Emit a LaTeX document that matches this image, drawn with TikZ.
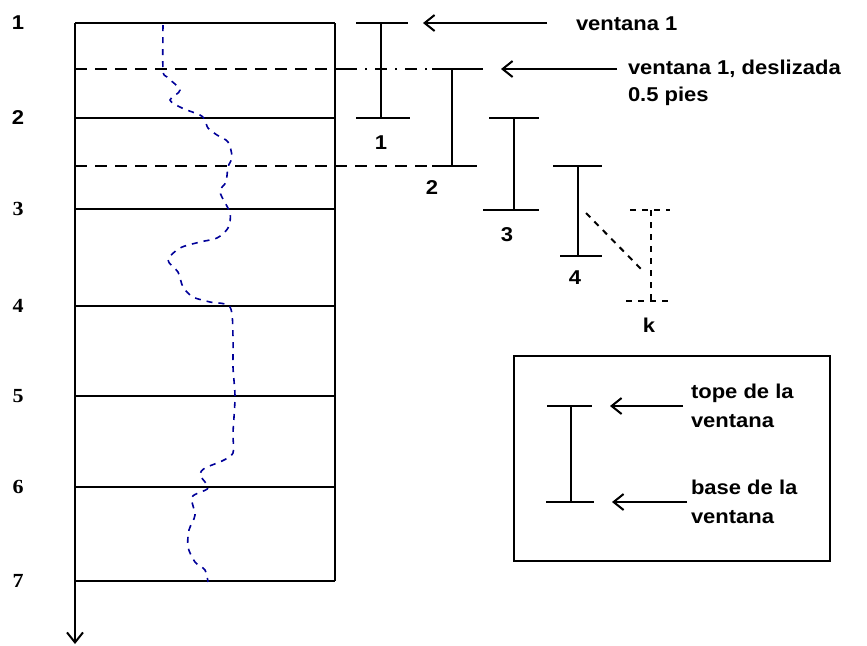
\documentclass[tikz,border=0pt]{standalone}
\usepackage{fontspec}
\setmainfont[FakeStretch=1.1]{Liberation Sans}
\newfontfamily\numserif[FakeStretch=1.1]{Liberation Serif}
\usetikzlibrary{arrows.meta}

\begin{document}
\begin{tikzpicture}[x=0.5pt,y=-0.5pt,line width=1pt,>={Straight Barb[length=5pt,width=8pt]},
  num/.style={font=\bfseries,inner sep=0pt},
  note/.style={font=\bfseries,inner sep=0pt,align=left,anchor=base west},
  dash line/.style={dash pattern=on 6pt off 4pt},
  dash dot line/.style={dash pattern=on 6pt off 4pt on 1pt off 4pt},
  guess line/.style={dash pattern=on 3pt off 3pt},
  trace/.style={draw=blue!60!black,line width=0.8pt,dash pattern=on 3pt off 3pt}]
  \useasboundingbox (0,0) rectangle (867,645);

  \foreach \y/\n/\f in {23/1/\relax,118/2/\relax,209/3/\numserif,306/4/\numserif,396/5/\numserif,487/6/\numserif,581/7/\numserif} {
    \node[num,font=\f\bfseries] (r\n) at (18,\y) {\n};
    \coordinate (a\n) at (75,\y);
    \coordinate (b\n) at (335,\y);
    \draw (a\n) -- (b\n);
  }
  \coordinate (end) at (75,644);
  \draw (b1) -- (b7);
  \draw[->] (a1) -- (end);

  \draw[dash line] (75,69) -- (345,69);
  \draw[dash dot line] (345,69) -- (432,69);
  \draw[dash line] (75,166) -- (432,166);

  \draw[trace] plot[smooth,tension=0.5] coordinates {(163,25) (163,70) (167,77) (180,90) (170,100) (182,108) (200,115) (205,120) (208,128) (217,135) (228,142) (232,157) (228,167) (226,182) (220,192) (230,213) (228,228) (217,238) (200,242) (180,248) (168,260) (178,272) (183,287) (193,297) (210,302) (230,307) (233,337) (233,367) (235,397) (233,433) (233,453) (222,461) (205,468) (200,475) (208,488) (192,497) (195,515) (189,530) (188,547) (195,562) (205,570) (208,582)};

  \coordinate (w1t) at (381,23);  \coordinate (w1b) at (381,118);
  \coordinate (w2t) at (452,69);  \coordinate (w2b) at (452,166);
  \coordinate (w3t) at (514,118); \coordinate (w3b) at (514,210);
  \coordinate (w4t) at (578,166); \coordinate (w4b) at (578,256);
  \coordinate (wkt) at (651,210); \coordinate (wkb) at (651,301);

  \draw (356,23) -- (408,23);  \draw (w1t) -- (w1b); \draw (356,118) -- (410,118);
  \draw (432,69) -- (483,69);  \draw (w2t) -- (w2b); \draw (432,166) -- (477,166);
  \draw (489,118) -- (539,118); \draw (w3t) -- (w3b); \draw (483,210) -- (539,210);
  \draw (553,166) -- (602,166); \draw (w4t) -- (w4b); \draw (560,256) -- (602,256);
  \draw[guess line] (630,210) -- (670,210);
  \draw[guess line] (wkt) -- (wkb);
  \draw[guess line] (626,301) -- (672,301);
  \draw[guess line] (586,213) -- (642,270);

  \node[num] (n1) at (381,143) {1};
  \node[num] (n2) at (432,188) {2};
  \node[num] (n3) at (507,235) {3};
  \node[num] (n4) at (575,278) {4};
  \node[num] (nk) at (649,325) {k};

  \node[note] (t1) at (575,30) {ventana 1};
  \node[note,font=\bfseries\fontsize{10}{13.5}\selectfont] (t2) at (627,101) {ventana 1, deslizada\\0.5 pies};
  \coordinate (s1) at (547,23); \coordinate (p1) at (423,23);
  \coordinate (s2) at (617,69); \coordinate (p2) at (501,69);
  \draw[->] (s1) -- (p1);
  \draw[->] (s2) -- (p2);

  \draw (514,356) rectangle (830,561);
  \coordinate (lt) at (571,406); \coordinate (lb) at (571,502);
  \draw (547,406) -- (592,406);
  \draw (lt) -- (lb);
  \draw (546,502) -- (594,502);
  \node[note,font=\bfseries\fontsize{10}{14.5}\selectfont] (tope) at (690,427) {tope de la\\ventana};
  \node[note,font=\bfseries\fontsize{10}{14.5}\selectfont] (base) at (690,523) {base de la\\ventana};
  \coordinate (s3) at (683,406); \coordinate (p3) at (610,406);
  \coordinate (s4) at (687,502); \coordinate (p4) at (612,502);
  \draw[->] (s3) -- (p3);
  \draw[->] (s4) -- (p4);
\end{tikzpicture}
\end{document}
